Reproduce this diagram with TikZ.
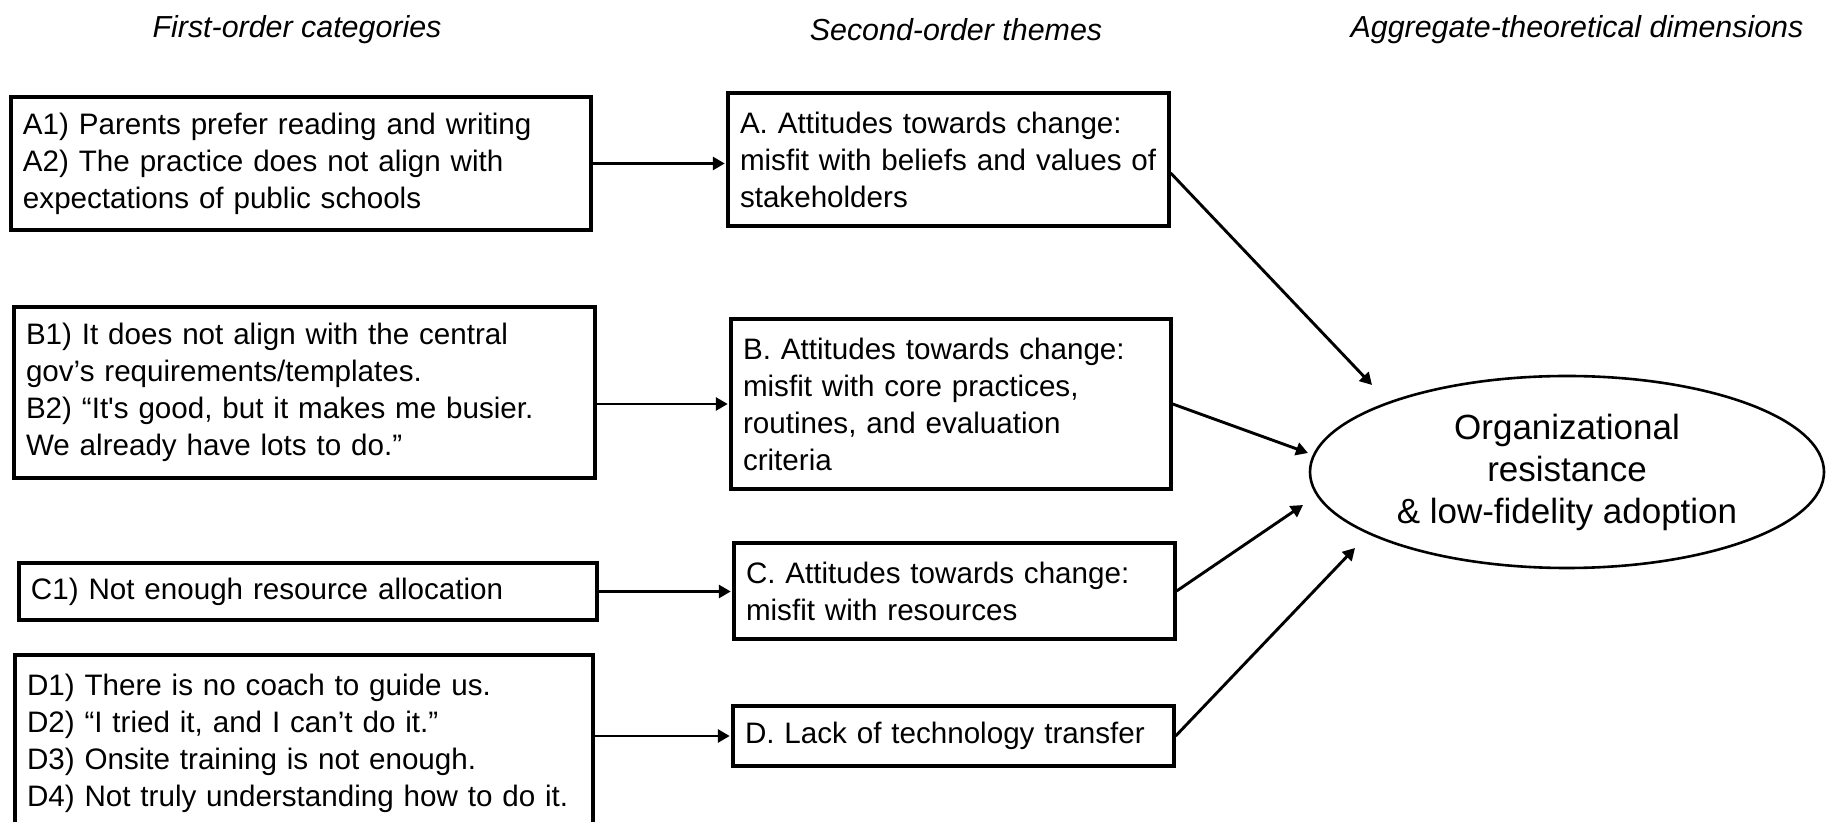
\documentclass[tikz,border=0pt]{standalone}
\usepackage{fontspec}
\setmainfont{Liberation Sans}[Ligatures=TeXOff]
\usetikzlibrary{arrows.meta,shapes.geometric}
\begin{document}
\begin{tikzpicture}[x=0.5pt,y=-0.5pt,
  hdr/.style={inner sep=0pt,font=\fontsize{15.2}{18.5}\selectfont\itshape},
  catbox/.style={draw,line width=1.65pt,align=left,inner xsep=6pt,inner ysep=0pt,
    font=\fontsize{14.8}{18.5}\selectfont},
  link/.style={line width=1.45pt,-{Triangle[length=6pt,width=6.5pt]},shorten >=0.8pt},
  dimnode/.style={draw,ellipse,line width=1.3pt,align=center,inner sep=0pt,
    font=\fontsize{17.5}{21}\selectfont}]
\clip (0,0) rectangle (1827,822);

% column headings
\node[hdr] (h1) at (297,30) {First-order categories};
\node[hdr] (h2) at (956,30) {Second-order themes};
\node[hdr] (h3) at (1577,30) {Aggregate-theoretical dimensions};

% first-order categories
\node[catbox,text width=278pt,minimum height=66.5pt] (a1) at (301,163.5)
  {A1) Parents prefer reading and writing\\A2) The practice does not align with\\expectations of public schools};
\node[catbox,text width=278.5pt,minimum height=85.5pt] (b1) at (304.5,392.5)
  {B1) It does not align with the central\\gov’s requirements/templates.\\B2) “It's good, but it makes me busier.\\We already have lots to do.”};
\node[catbox,text width=277pt,minimum height=28.5pt] (c1) at (308,591.5)
  {C1) Not enough resource allocation};
\node[catbox,text width=277pt,minimum height=88.5pt] (d1) at (304,743.5)
  {D1) There is no coach to guide us.\\D2) “I tried it, and I can’t do it.”\\D3) Onsite training is not enough.\\D4) Not truly understanding how to do it.};

% second-order themes
\node[catbox,text width=208.5pt,minimum height=66.5pt] (a) at (948.5,159.5)
  {A. Attitudes towards change:\\misfit with beliefs and values of\\stakeholders};
\node[catbox,text width=208pt,minimum height=85pt] (b) at (951,404)
  {B. Attitudes towards change:\\misfit with core practices,\\routines, and evaluation\\criteria};
\node[catbox,text width=208.5pt,minimum height=48pt] (c) at (954.5,591)
  {C. Attitudes towards change:\\misfit with resources};
\node[catbox,text width=208.5pt,minimum height=30pt] (d) at (953.5,736)
  {D. Lack of technology transfer};

% aggregate dimension
\node[dimnode,minimum width=257pt,minimum height=96pt] (e) at (1567,472)
  {Organizational\\resistance\\\& low-fidelity adoption};

% arrow tips near the ellipse
\coordinate (tA) at (1372,385);
\coordinate (tB) at (1308,453);
\coordinate (tC) at (1303,505);
\coordinate (tD) at (1355,548);

% category -> theme
\draw[link] (a1.east) -- (a1.east -| a.west);
\draw[link] (b1.east |- b.west) -- (b.west);
\draw[link] (c1.east) -- (c1.east -| c.west);
\draw[link] (d1.east |- d.west) -- (d.west);

% theme -> dimension
\draw[link,shorten >=0pt] ([yshift=-6.75pt]a.east) -- (tA);
\draw[link,shorten >=0pt] (b.east) -- (tB);
\draw[link,shorten >=0pt] (c.east) -- (tC);
\draw[link,shorten >=0pt] (d.east) -- (tD);
\end{tikzpicture}
\end{document}
